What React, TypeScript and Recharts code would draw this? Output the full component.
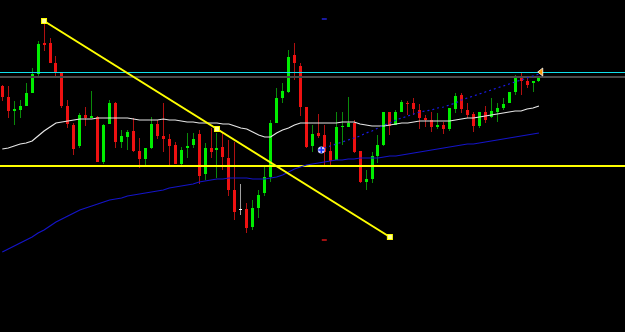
import {
  ComposedChart,
  Bar,
  Line,
  XAxis,
  YAxis,
  ReferenceLine,
  ReferenceDot,
} from "recharts";

// candle prices (chart units, higher = up), one per bar
const OPEN = [
  246, 235, 221, 222, 226, 239, 258, 289, 289, 269,
  260, 226, 207, 186, 217, 214, 215, 170, 208, 229,
  190, 195, 201, 181, 173, 184, 208, 196, 193, 187,
  168, 184, 187, 198, 158, 184, 182, 185, 174, 142,
  123, 123, 105, 124, 139, 155, 209, 234, 240, 277,
  266, 225, 186, 199, 197, 181, 172, 205, 205, 209,
  181, 150, 153, 176, 187, 220, 207, 220, 229, 229,
  222, 214, 212, 205, 207, 203, 223, 237, 222, 218,
  206, 220, 215, 220, 224, 229, 240, 255, 251, 249, 251,
];
const HIGH = [
  247, 246, 231, 232, 249, 264, 291, 311, 294, 276,
  260, 232, 209, 219, 225, 241, 216, 208, 232, 230,
  202, 202, 214, 194, 184, 215, 212, 229, 198, 190,
  185, 199, 199, 202, 189, 204, 199, 199, 192, 190,
  148, 129, 132, 142, 165, 212, 244, 249, 282, 289,
  269, 225, 207, 218, 207, 190, 220, 220, 235, 212,
  181, 162, 180, 197, 220, 220, 222, 232, 231, 234,
  228, 217, 220, 219, 210, 224, 239, 239, 229, 220,
  220, 226, 234, 229, 234, 240, 257, 259, 255, 251, 256,
];
const LOW = [
  231, 214, 207, 214, 226, 239, 255, 281, 269, 255,
  224, 204, 177, 184, 206, 214, 170, 168, 208, 184,
  184, 182, 180, 164, 167, 183, 193, 180, 165, 168,
  167, 174, 184, 148, 152, 174, 154, 162, 136, 112,
  117, 99, 102, 114, 136, 150, 209, 229, 239, 252,
  216, 184, 180, 194, 167, 165, 172, 187, 205, 179,
  149, 142, 149, 169, 186, 197, 207, 220, 217, 217,
  203, 205, 200, 203, 198, 201, 219, 219, 214, 200,
  204, 209, 214, 210, 222, 229, 237, 237, 244, 240, 250,
];
const CLOSE = [
  235, 221, 223, 226, 239, 258, 288, 287, 269, 260,
  226, 208, 183, 217, 214, 216, 170, 207, 229, 190,
  196, 200, 181, 173, 184, 208, 196, 193, 186, 168,
  182, 186, 193, 156, 184, 180, 184, 175, 142, 120,
  123, 104, 124, 137, 155, 209, 234, 241, 275, 269,
  225, 185, 198, 196, 180, 171, 205, 206, 209, 180,
  150, 153, 176, 187, 220, 206, 220, 230, 228, 223,
  214, 212, 205, 207, 203, 224, 236, 223, 217, 206,
  220, 212, 221, 224, 228, 240, 255, 251, 247, 251, 255,
];

// moving averages
const MA_WHITE = [
  183, 184, 186, 188, 189, 191, 196, 201, 205, 209,
  210, 211, 212, 213, 213, 213, 214, 214, 214, 214,
  214, 214, 213, 212, 212, 212, 212, 213, 212, 212,
  211, 210, 210, 209, 209, 209, 209, 208, 208, 206,
  204, 203, 200, 197, 195, 195, 199, 202, 204, 207,
  209, 209, 209, 209, 209, 209, 209, 210, 210, 210,
  208, 207, 206, 206, 206, 207, 208, 209, 209, 210,
  211, 211, 211, 211, 211, 211, 212, 213, 214, 214,
  215, 216, 217, 218, 219, 220, 221, 221, 223, 224, 226,
];
const MA_BLUE = [
  80, 83, 86, 89, 92, 95, 99, 102, 106, 110,
  113, 116, 119, 122, 124, 126, 128, 130, 132, 133,
  134, 136, 137, 138, 139, 140, 141, 142, 144, 145,
  146, 147, 148, 150, 151, 152, 153, 153, 154, 154,
  154, 154, 153, 153, 153, 154, 155, 157, 160, 163,
  165, 167, 168, 169, 170, 171, 172, 172, 173, 173,
  174, 174, 174, 174, 175, 176, 176, 177, 178, 179,
  180, 181, 182, 183, 184, 185, 186, 187, 188, 188,
  189, 190, 191, 192, 193, 194, 195, 196, 197, 198, 199,
];
const MA_DOTTED_FROM = 54;
const MA_DOTTED = [
  184, 186, 188, 190, 192, 194, 196, 199, 201, 204,
  207, 209, 212, 214, 216, 218, 220, 221, 222, 224,
  225, 227, 229, 232, 234, 236, 238, 240, 242, 244,
  246, 248, 250, 252, 254, 256, 258,
];

// horizontal levels and drawn objects
const LEVEL_CYAN = 260;
const LEVEL_GRAY = 255;
const LEVEL_YELLOW = 166;
const TREND_POINTS = [
  { i: 7, p: 311 },
  { i: 36, p: 203 },
  { i: 65, p: 95 },
];
const HIGH_MARK = { i: 54, p: 313 };
const LOW_MARK = { i: 54, p: 92 };
const SIGNAL = { i: 53.5, p: 182 };
const PRICE_TAG = { i: 90.3, p: 260 };

const data = OPEN.map((o, i) => ({
  i,
  open: o,
  high: HIGH[i],
  low: LOW[i],
  close: CLOSE[i],
  range: [LOW[i], HIGH[i]],
  white: MA_WHITE[i],
  blue: MA_BLUE[i],
  dotted: i >= MA_DOTTED_FROM ? MA_DOTTED[i - MA_DOTTED_FROM] : null,
}));

const Candle = (props: any) => {
  const { x, y, width, height, payload } = props;
  const { open, close, high, low } = payload;
  const toY = (v: number) => y + (height * (high - v)) / (high - low);
  const cx = Math.round(x + width / 2);
  const top = Math.round(Math.min(toY(open), toY(close)));
  const bottom = Math.round(Math.max(toY(open), toY(close)));
  const doji = open === close;
  const up = close > open;
  const body = doji ? "#ffffff" : up ? "#00ee00" : "#ee1111";
  const wick = doji ? "#a0a0a0" : up ? "#0a8a0a" : "#b01010";
  return (
    <g shapeRendering="crispEdges">
      <line x1={cx + 0.5} x2={cx + 0.5} y1={Math.round(y)} y2={Math.round(y + height)} stroke={wick} strokeWidth={1} />
      <rect x={cx - 1} y={top} width={3} height={Math.max(1, bottom - top)} fill={body} />
    </g>
  );
};

const Square = (p: any) => (
  <rect x={p.cx - 2.5} y={p.cy - 2.5} width={5} height={5} fill="#ffff99" stroke="#ffff00" strokeWidth={1} />
);

const Dash = (color: string) => (p: any) => (
  <rect x={p.cx - 2.5} y={p.cy - 1} width={5} height={2} fill={color} />
);

const SignalMark = (p: any) => (
  <g>
    <circle cx={p.cx} cy={p.cy} r={3.5} fill="#d0d0ff" />
    <line x1={p.cx - 3} x2={p.cx + 3} y1={p.cy} y2={p.cy} stroke="#1030ff" strokeWidth={1.5} />
    <line x1={p.cx} x2={p.cx} y1={p.cy - 3} y2={p.cy + 3} stroke="#1030ff" strokeWidth={1.5} />
  </g>
);

const Tag = (p: any) => (
  <polygon
    points={`${p.cx - 3},${p.cy} ${p.cx + 2},${p.cy - 4} ${p.cx + 2},${p.cy + 4}`}
    fill="#ff9900"
    stroke="#ffffff"
    strokeWidth={0.8}
  />
);

export default function App() {
  return (
    <div style={{ position: "absolute", left: 0, top: 0, width: 625, height: 332, background: "#000" }}>
      <ComposedChart width={625} height={332} data={data} margin={{ top: 0, right: 0, bottom: 0, left: 0 }}>
        <XAxis type="number" dataKey="i" domain={[-0.386, 104.43]} hide allowDataOverflow />
        <YAxis type="number" domain={[0, 332]} hide allowDataOverflow />

        <ReferenceLine y={LEVEL_CYAN} stroke="#10e0ec" strokeWidth={1} shapeRendering="crispEdges" />
        <ReferenceLine y={LEVEL_GRAY} stroke="#484848" strokeWidth={2} shapeRendering="crispEdges" />
        <ReferenceLine y={LEVEL_YELLOW} stroke="#ffff00" strokeWidth={2} shapeRendering="crispEdges" />

        <Bar dataKey="range" barSize={3} shape={<Candle />} isAnimationActive={false} />

        <Line type="linear" dataKey="white" stroke="#e6e6e6" strokeWidth={1.2} dot={false} activeDot={false} isAnimationActive={false} />
        <Line type="linear" dataKey="blue" stroke="#1414c8" strokeWidth={1.2} dot={false} activeDot={false} isAnimationActive={false} />
        <Line type="linear" dataKey="dotted" stroke="#1a1ae6" strokeWidth={1.2} strokeDasharray="2 3" dot={false} activeDot={false} isAnimationActive={false} />

        <ReferenceLine
          segment={[
            { x: TREND_POINTS[0].i, y: TREND_POINTS[0].p },
            { x: TREND_POINTS[2].i, y: TREND_POINTS[2].p },
          ]}
          stroke="#ffff00"
          strokeWidth={2}
        />
        {TREND_POINTS.map((t, k) => (
          <ReferenceDot key={k} x={t.i} y={t.p} r={3} shape={Square} />
        ))}
        <ReferenceDot x={HIGH_MARK.i} y={HIGH_MARK.p} r={2} shape={Dash("#1a1aa0")} />
        <ReferenceDot x={LOW_MARK.i} y={LOW_MARK.p} r={2} shape={Dash("#a01010")} />
        <ReferenceDot x={SIGNAL.i} y={SIGNAL.p} r={3} shape={SignalMark} />
        <ReferenceDot x={PRICE_TAG.i} y={PRICE_TAG.p} r={3} shape={Tag} />
      </ComposedChart>
    </div>
  );
}
